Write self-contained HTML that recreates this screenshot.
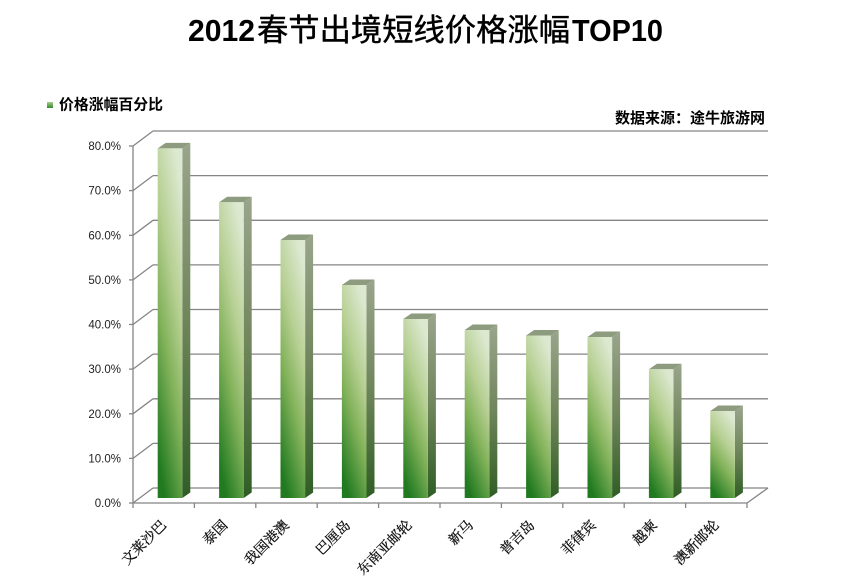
<!DOCTYPE html>
<html>
<head>
<meta charset="utf-8">
<style>
html,body{margin:0;padding:0;background:#fff;}
svg{display:block;}
.cjk{font-family:"Liberation Sans","Noto Sans CJK SC",sans-serif;}
.ser{font-family:"Liberation Serif","Noto Serif CJK SC",serif;}
.lat{font-family:"Liberation Sans",sans-serif;}
</style>
</head>
<body>
<svg width="866" height="588" viewBox="0 0 866 588" xmlns="http://www.w3.org/2000/svg">
<defs>
  <linearGradient id="gf" x1="0.7" y1="0" x2="0.3" y2="1">
    <stop offset="0" stop-color="#dce9d0"/>
    <stop offset="0.35" stop-color="#b6cf92"/>
    <stop offset="0.62" stop-color="#82b25a"/>
    <stop offset="1" stop-color="#217a20"/>
  </linearGradient>
  <linearGradient id="gs" x1="0" y1="0" x2="0" y2="1">
    <stop offset="0" stop-color="#9aa58c"/>
    <stop offset="0.5" stop-color="#6f855b"/>
    <stop offset="1" stop-color="#2f5d25"/>
  </linearGradient>
  <linearGradient id="gl" x1="0" y1="0" x2="0" y2="1">
    <stop offset="0" stop-color="#a8cc90"/>
    <stop offset="1" stop-color="#2f8a2a"/>
  </linearGradient>
</defs>

<text x="188" y="41" class="lat" font-size="31" font-weight="bold" fill="#000" textLength="67" lengthAdjust="spacingAndGlyphs">2012</text>
<text x="257" y="41" class="cjk" font-size="31" fill="#000" textLength="313" lengthAdjust="spacingAndGlyphs" stroke="#000" stroke-width="0.4">春节出境短线价格涨幅</text>
<text x="572" y="41" class="lat" font-size="31" font-weight="bold" fill="#000" textLength="91" lengthAdjust="spacingAndGlyphs">TOP10</text>

<rect x="47" y="102" width="6" height="6" fill="url(#gl)"/>
<text x="59" y="109.5" class="cjk" font-size="15" font-weight="bold" fill="#000" textLength="104" lengthAdjust="spacingAndGlyphs">价格涨幅百分比</text>

<text x="615" y="123" class="cjk" font-size="15" font-weight="bold" fill="#000" textLength="150" lengthAdjust="spacingAndGlyphs">数据来源：途牛旅游网</text>

<g stroke="#858585" stroke-width="1.3" fill="none">
  <line x1="153" y1="488" x2="768" y2="488"/>
  <line x1="153" y1="443.4" x2="768" y2="443.4"/>
  <line x1="153" y1="398.8" x2="768" y2="398.8"/>
  <line x1="153" y1="354.1" x2="768" y2="354.1"/>
  <line x1="153" y1="309.5" x2="768" y2="309.5"/>
  <line x1="153" y1="264.9" x2="768" y2="264.9"/>
  <line x1="153" y1="220.3" x2="768" y2="220.3"/>
  <line x1="153" y1="175.6" x2="768" y2="175.6"/>
  <line x1="153" y1="131" x2="768" y2="131"/>
  <line x1="133" y1="503" x2="153" y2="488"/>
  <line x1="133" y1="458.4" x2="153" y2="443.4"/>
  <line x1="133" y1="413.8" x2="153" y2="398.8"/>
  <line x1="133" y1="369.1" x2="153" y2="354.1"/>
  <line x1="133" y1="324.5" x2="153" y2="309.5"/>
  <line x1="133" y1="279.9" x2="153" y2="264.9"/>
  <line x1="133" y1="235.3" x2="153" y2="220.3"/>
  <line x1="133" y1="190.6" x2="153" y2="175.6"/>
  <line x1="133" y1="146" x2="153" y2="131"/>
  <line x1="129" y1="503" x2="133" y2="503"/>
  <line x1="129" y1="458.4" x2="133" y2="458.4"/>
  <line x1="129" y1="413.8" x2="133" y2="413.8"/>
  <line x1="129" y1="369.1" x2="133" y2="369.1"/>
  <line x1="129" y1="324.5" x2="133" y2="324.5"/>
  <line x1="129" y1="279.9" x2="133" y2="279.9"/>
  <line x1="129" y1="235.3" x2="133" y2="235.3"/>
  <line x1="129" y1="190.6" x2="133" y2="190.6"/>
  <line x1="129" y1="146" x2="133" y2="146"/>
  <line x1="133" y1="146" x2="133" y2="508"/>
  <line x1="133" y1="503" x2="747" y2="503"/>
  <line x1="747" y1="503" x2="768" y2="488"/>
  <line x1="194.4" y1="503" x2="194.4" y2="508"/>
  <line x1="255.8" y1="503" x2="255.8" y2="508"/>
  <line x1="317.2" y1="503" x2="317.2" y2="508"/>
  <line x1="378.6" y1="503" x2="378.6" y2="508"/>
  <line x1="440" y1="503" x2="440" y2="508"/>
  <line x1="501.4" y1="503" x2="501.4" y2="508"/>
  <line x1="562.8" y1="503" x2="562.8" y2="508"/>
  <line x1="624.2" y1="503" x2="624.2" y2="508"/>
  <line x1="685.6" y1="503" x2="685.6" y2="508"/>
  <line x1="747" y1="503" x2="747" y2="508"/>
</g>

<g class="lat" font-size="11.5" fill="#222" text-anchor="end">
  <text x="121" y="507">0.0%</text>
  <text x="121" y="462.4">10.0%</text>
  <text x="121" y="417.8">20.0%</text>
  <text x="121" y="373.1">30.0%</text>
  <text x="121" y="328.5">40.0%</text>
  <text x="121" y="283.9">50.0%</text>
  <text x="121" y="239.3">60.0%</text>
  <text x="121" y="194.6">70.0%</text>
  <text x="121" y="150">80.0%</text>
</g>

<g>
  <polygon points="182.3,148.4 190.3,142.9 190.3,492.5 182.3,498" fill="url(#gs)"/>
  <polygon points="157.7,148.4 165.7,142.9 190.3,142.9 182.3,148.4" fill="#8d9b7e"/>
  <rect x="157.7" y="148.4" width="24.6" height="349.6" fill="url(#gf)"/>

  <polygon points="243.7,202.3 251.7,196.8 251.7,492.5 243.7,498" fill="url(#gs)"/>
  <polygon points="219.1,202.3 227.1,196.8 251.7,196.8 243.7,202.3" fill="#8d9b7e"/>
  <rect x="219.1" y="202.3" width="24.6" height="295.7" fill="url(#gf)"/>

  <polygon points="305.1,240 313.1,234.5 313.1,492.5 305.1,498" fill="url(#gs)"/>
  <polygon points="280.5,240 288.5,234.5 313.1,234.5 305.1,240" fill="#8d9b7e"/>
  <rect x="280.5" y="240" width="24.6" height="258" fill="url(#gf)"/>

  <polygon points="366.5,285 374.5,279.5 374.5,492.5 366.5,498" fill="url(#gs)"/>
  <polygon points="341.9,285 349.9,279.5 374.5,279.5 366.5,285" fill="#8d9b7e"/>
  <rect x="341.9" y="285" width="24.6" height="213" fill="url(#gf)"/>

  <polygon points="427.9,319 435.9,313.5 435.9,492.5 427.9,498" fill="url(#gs)"/>
  <polygon points="403.3,319 411.3,313.5 435.9,313.5 427.9,319" fill="#8d9b7e"/>
  <rect x="403.3" y="319" width="24.6" height="179" fill="url(#gf)"/>

  <polygon points="489.3,330 497.3,324.5 497.3,492.5 489.3,498" fill="url(#gs)"/>
  <polygon points="464.7,330 472.7,324.5 497.3,324.5 489.3,330" fill="#8d9b7e"/>
  <rect x="464.7" y="330" width="24.6" height="168" fill="url(#gf)"/>

  <polygon points="550.7,335.5 558.7,330 558.7,492.5 550.7,498" fill="url(#gs)"/>
  <polygon points="526.1,335.5 534.1,330 558.7,330 550.7,335.5" fill="#8d9b7e"/>
  <rect x="526.1" y="335.5" width="24.6" height="162.5" fill="url(#gf)"/>

  <polygon points="612.1,337 620.1,331.5 620.1,492.5 612.1,498" fill="url(#gs)"/>
  <polygon points="587.5,337 595.5,331.5 620.1,331.5 612.1,337" fill="#8d9b7e"/>
  <rect x="587.5" y="337" width="24.6" height="161" fill="url(#gf)"/>

  <polygon points="673.5,369.3 681.5,363.8 681.5,492.5 673.5,498" fill="url(#gs)"/>
  <polygon points="648.9,369.3 656.9,363.8 681.5,363.8 673.5,369.3" fill="#8d9b7e"/>
  <rect x="648.9" y="369.3" width="24.6" height="128.7" fill="url(#gf)"/>

  <polygon points="734.9,411 742.9,405.5 742.9,492.5 734.9,498" fill="url(#gs)"/>
  <polygon points="710.3,411 718.3,405.5 742.9,405.5 734.9,411" fill="#8d9b7e"/>
  <rect x="710.3" y="411" width="24.6" height="87" fill="url(#gf)"/>
</g>

<g class="ser" font-size="14" fill="#111" stroke="#111" stroke-width="0.3" text-anchor="end">
  <text transform="translate(167,526) rotate(-45)">文莱沙巴</text>
  <text transform="translate(228.4,526) rotate(-45)">泰国</text>
  <text transform="translate(289.8,526) rotate(-45)">我国港澳</text>
  <text transform="translate(351.2,526) rotate(-45)">巴厘岛</text>
  <text transform="translate(412.6,526) rotate(-45)">东南亚邮轮</text>
  <text transform="translate(474,526) rotate(-45)">新马</text>
  <text transform="translate(535.4,526) rotate(-45)">普吉岛</text>
  <text transform="translate(596.8,526) rotate(-45)">菲律宾</text>
  <text transform="translate(658.2,526) rotate(-45)">越柬</text>
  <text transform="translate(719.6,526) rotate(-45)">澳新邮轮</text>
</g>
</svg>
</body>
</html>
